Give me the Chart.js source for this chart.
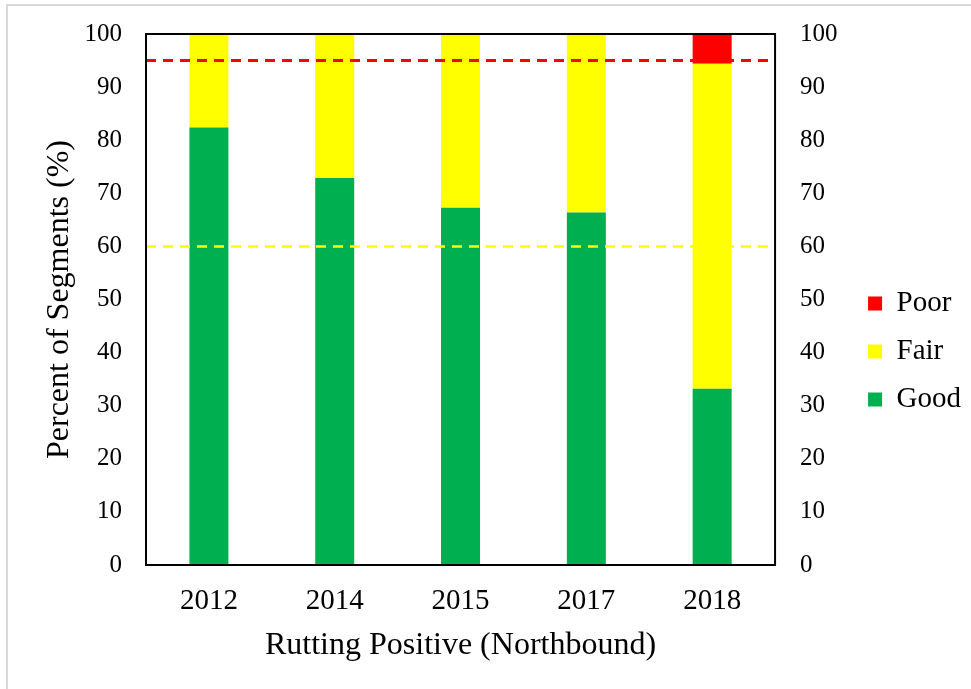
<!DOCTYPE html>
<html>
<head>
<meta charset="utf-8">
<script src="https://cdn.jsdelivr.net/npm/chart.js@4.4.1/dist/chart.umd.min.js"></script>
<style>
  body { margin: 0; background: #fff; }
  canvas { display: block; }
</style>
</head>
<body>
<canvas id="Chart1" width="971" height="689"></canvas>
<script>
const years = ['2012', '2014', '2015', '2017', '2018'];
const good = [82.4, 72.9, 67.3, 66.4, 33.2];
const fair = [17.6, 27.1, 32.7, 33.6, 61.2];
const poor = [0, 0, 0, 0, 5.6];
const yTicks = [0, 10, 20, 30, 40, 50, 60, 70, 80, 90, 100];
const thresholds = [
  { value: 95, color: '#FF0000', width: 3 },
  { value: 60, color: '#FFFF00', width: 2.5 }
];

const serif = "'Liberation Serif', 'Times New Roman', serif";

const refLines = {
  id: 'refLines',
  afterDatasetsDraw(chart) {
    const ctx = chart.ctx;
    const area = chart.chartArea;
    const y = chart.scales.y;
    ctx.save();
    thresholds.forEach(t => {
      const py = y.getPixelForValue(t.value);
      ctx.beginPath();
      ctx.setLineDash([10, 7]);
      ctx.strokeStyle = t.color;
      ctx.lineWidth = t.width;
      ctx.moveTo(area.left, py);
      ctx.lineTo(area.right, py);
      ctx.stroke();
    });
    ctx.restore();
  },
  afterDraw(chart) {
    const ctx = chart.ctx;
    const area = chart.chartArea;
    ctx.save();
    // plot box
    ctx.strokeStyle = '#000';
    ctx.lineWidth = 2;
    ctx.strokeRect(area.left, area.top, area.right - area.left, area.bottom - area.top);
    // outer frame (only top and left visible in the picture)
    ctx.strokeStyle = '#d9d9d9';
    ctx.lineWidth = 2;
    ctx.strokeRect(7, 5, chart.width + 10, chart.height + 10);
    ctx.restore();
  }
};

// y axes: no extra room reserved above/below for the end labels
const noPad = (w) => (scale) => {
  scale.width = w;
  scale.paddingTop = 0;
  scale.paddingBottom = 0;
};

const ctx = document.getElementById('Chart1').getContext('2d');
const data = {
  labels: years,
  datasets: [
    { label: 'Good', data: good, backgroundColor: '#00B050' },
    { label: 'Fair', data: fair, backgroundColor: '#FFFF00' },
    { label: 'Poor', data: poor, backgroundColor: '#FF0000' }
  ]
};

const config = {
  type: 'bar',
  data: data,
  options: {
    responsive: false,
    maintainAspectRatio: false,
    animation: false,
    datasets: {
      bar: { barPercentage: 0.31, categoryPercentage: 1 }
    },
    layout: {
      padding: { left: 40, right: 0, top: 34, bottom: 20 }
    },
    plugins: {
      tooltip: { enabled: false },
      legend: {
        position: 'right',
        reverse: true,
        labels: {
          color: '#000',
          boxWidth: 14,
          boxHeight: 14,
          padding: 19,
          font: { family: serif, size: 29 }
        }
      }
    },
    scales: {
      x: {
        stacked: true,
        afterFit: (scale) => { scale.height = 104; },
        grid: { display: false, drawTicks: false },
        border: { display: false },
        ticks: { color: '#000', padding: 19, font: { family: serif, size: 29 } },
        title: {
          display: true,
          text: 'Rutting Positive (Northbound)',
          color: '#000',
          padding: { top: 0, bottom: 4 },
          font: { family: serif, size: 32 }
        }
      },
      y: {
        stacked: true,
        min: 0,
        max: 100,
        afterBuildTicks: (axis) => { axis.ticks = yTicks.map(v => ({ value: v })); },
        afterFit: noPad(106),
        grid: { display: false, drawTicks: false },
        border: { display: false },
        ticks: { color: '#000', padding: 24, font: { family: serif, size: 25 } },
        title: {
          display: true,
          text: 'Percent of Segments (%)',
          color: '#000',
          padding: { top: 0, bottom: 0 },
          font: { family: serif, size: 32 }
        }
      },
      y2: {
        position: 'right',
        min: 0,
        max: 100,
        afterBuildTicks: (axis) => { axis.ticks = yTicks.map(v => ({ value: v })); },
        afterFit: noPad(74),
        grid: { display: false, drawTicks: false },
        border: { display: false },
        ticks: { color: '#000', padding: 25, font: { family: serif, size: 25 } }
      }
    }
  },
  plugins: [refLines]
};

var myChart1 = new Chart(ctx, config);
</script>
</body>
</html>
